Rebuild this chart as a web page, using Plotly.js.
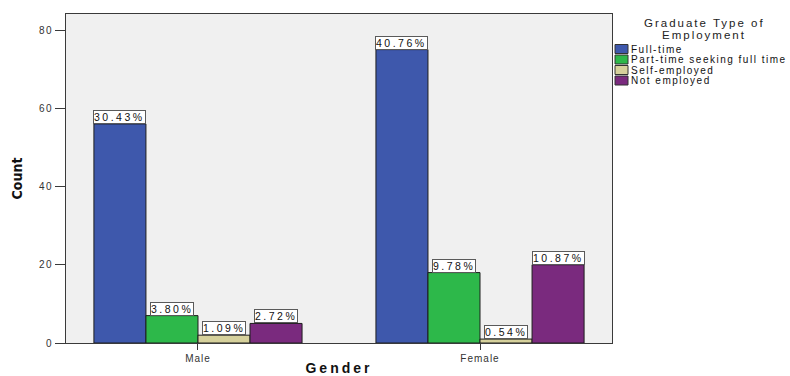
<!DOCTYPE html>
<html>
<head>
<meta charset="utf-8">
<script src="https://cdn.plot.ly/plotly-3.0.1.min.js"></script>
<style>
  html, body { margin: 0; padding: 0; background: #ffffff; }
  #chart { width: 790px; height: 376px; }
</style>
</head>
<body>
<div id="chart"></div>
<script>
// Graduate type of employment by gender (counts, labelled with % of total)
const genders = ['Male', 'Female'];
const employmentTypes = ['Full-time', 'Part-time seeking full time', 'Self-employed', 'Not employed'];
const fullTime = [56, 75];
const partTime = [7, 18];
const selfEmployed = [2, 1];
const notEmployed = [5, 20];
const fullTimePct = ['30.43%', '40.76%'];
const partTimePct = ['3.80%', '9.78%'];
const selfEmployedPct = ['1.09%', '0.54%'];
const notEmployedPct = ['2.72%', '10.87%'];
const yTicks = [0, 20, 40, 60, 80];

const seriesValues = [fullTime, partTime, selfEmployed, notEmployed];
const seriesLabels = [fullTimePct, partTimePct, selfEmployedPct, notEmployedPct];
const colors = ['#3e58ac', '#2db84a', '#d6d19c', '#7a2a7e'];

const W = 790, H = 376;
const M = { l: 66, r: 178, t: 14, b: 33 };
const plotW = W - M.l - M.r, plotH = H - M.t - M.b;
const px2x = p => (p - M.l) / plotW;
const py2y = p => (H - M.b - p) / plotH;

// wide-tracked text helper
const spaced = (s, ls) => `<span style="letter-spacing:${ls}px">${s}</span>`;
const FONT = 'Liberation Sans, Arial, sans-serif';

const groupWidth = 0.738;
const barW = groupWidth / employmentTypes.length;

const traces = employmentTypes.map((name, j) => ({
  type: 'bar',
  name: name,
  x: genders,
  y: seriesValues[j],
  marker: { color: colors[j], line: { color: '#1e1e1e', width: 1 } },
  showlegend: false
}));

const annotations = [];
// value labels above each bar
seriesValues.forEach((vals, j) => {
  vals.forEach((v, i) => {
    annotations.push({
      x: i + (j - (employmentTypes.length - 1) / 2) * barW,
      y: v,
      xref: 'x', yref: 'y',
      text: spaced(seriesLabels[j][i], 2.5),
      showarrow: false,
      yanchor: 'bottom',
      xanchor: 'center',
      bgcolor: '#ffffff',
      bordercolor: '#5a5a5a',
      borderwidth: 1,
      borderpad: 0,
      font: { family: FONT, size: 10.5, color: '#111' }
    });
  });
});

// legend block
const legendTitle = ['Graduate Type of', 'Employment'];
const legendTitleY = [23, 35];
legendTitle.forEach((t, k) => {
  annotations.push({
    x: px2x(704), y: py2y(legendTitleY[k]), xref: 'paper', yref: 'paper',
    text: spaced(t, 2),
    showarrow: false, xanchor: 'center', yanchor: 'middle',
    font: { family: FONT, size: 11.5, color: '#222' }
  });
});
const shapes = [];
const itemY = [49, 59.5, 70, 80.5];
employmentTypes.forEach((name, j) => {
  shapes.push({
    type: 'rect', xref: 'paper', yref: 'paper',
    x0: px2x(615), x1: px2x(628),
    y0: py2y(itemY[j] + 4.5), y1: py2y(itemY[j] - 4.5),
    fillcolor: colors[j], line: { color: '#333', width: 1 }
  });
  annotations.push({
    x: px2x(629), y: py2y(itemY[j]), xref: 'paper', yref: 'paper',
    text: spaced(name, 1.5), showarrow: false, xanchor: 'left', yanchor: 'middle',
    font: { family: FONT, size: 10, color: '#111' }
  });
});

const layout = {
  width: W, height: H,
  margin: M,
  paper_bgcolor: '#ffffff',
  plot_bgcolor: '#f0f0f0',
  barmode: 'group',
  bargap: 1 - groupWidth,
  bargroupgap: 0,
  showlegend: false,
  xaxis: {
    type: 'category',
    range: [-0.468, 1.468],
    tickvals: genders,
    ticktext: genders.map(g => spaced(g, 1)),
    showline: true, linecolor: '#3a3a3a', linewidth: 1, mirror: true,
    ticks: 'outside', ticklen: 6, tickcolor: '#3a3a3a',
    tickfont: { family: FONT, size: 10, color: '#333' },
    title: {
      text: '<b>' + spaced('Gender', 3) + '</b>',
      standoff: 7,
      font: { family: FONT, size: 14, color: '#111' }
    }
  },
  yaxis: {
    range: [0, 84.1],
    tickvals: yTicks,
    ticktext: yTicks.map(v => spaced(String(v), 1.5)),
    showgrid: false, zeroline: false,
    showline: true, linecolor: '#3a3a3a', linewidth: 1, mirror: true,
    ticks: 'outside', ticklen: 10, tickcolor: '#3a3a3a',
    tickfont: { family: FONT, size: 10, color: '#333' },
    title: {
      text: '<b>Count</b>',
      standoff: 12,
      font: { family: 'Liberation Sans Narrow, DejaVu Sans Condensed, Arial Narrow, sans-serif', size: 14, color: '#111' }
    }
  },
  annotations: annotations,
  shapes: shapes
};

Plotly.newPlot('chart', traces, layout, { displayModeBar: false, staticPlot: true });
</script>
</body>
</html>
